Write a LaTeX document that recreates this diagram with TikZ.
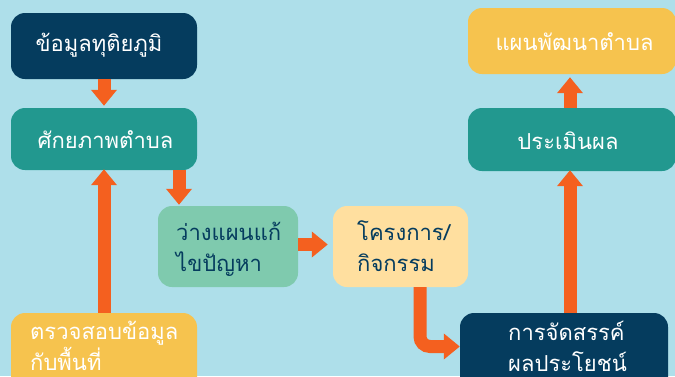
\documentclass[tikz,border=0pt]{standalone}
\usepackage{fontspec}
\newfontfamily\thaifont[Script=Thai]{Loma}
\usetikzlibrary{arrows.meta,calc}
\definecolor{bgblue}{HTML}{AEDFEA}
\definecolor{navy}{HTML}{053C5E}
\definecolor{teal1}{HTML}{22988F}
\definecolor{mint}{HTML}{7FCAAE}
\definecolor{sun}{HTML}{F6C34E}
\definecolor{peach}{HTML}{FFDF9F}
\definecolor{orng}{HTML}{F4601F}
\tikzset{
  box/.style={rectangle, rounded corners=14pt, inner sep=0pt},
  lbl/.style={inner sep=0pt, font=\thaifont\fontsize{22}{31}\selectfont},
  lblw/.style={lbl, text=white},
  lbln/.style={lbl, text=navy},
  arr/.style={draw=orng, line width=13pt, -{Triangle[width=25pt,length=16pt]}},
}
\begin{document}
\begin{tikzpicture}[x=1pt,y=-1pt]
\useasboundingbox (0,0) rectangle (675,376);
\fill[bgblue] (0,0) rectangle (675,376);
% boxes
\node[box, fill=navy, minimum width=186pt, minimum height=66pt] (b1) at (104,46) {};
\node[box, fill=teal1, minimum width=186pt, minimum height=62pt] (b2) at (104,139) {};
\node[box, fill=mint, minimum width=140pt, minimum height=81pt] (b3) at (228,246.5) {};
\node[box, fill=sun, minimum width=186pt, minimum height=82pt] (b4) at (104,354) {};
\node[box, fill=peach, minimum width=135pt, minimum height=81pt] (b5) at (400.5,246.5) {};
\node[box, fill=navy, minimum width=208pt, minimum height=82pt] (b6) at (564,354) {};
\node[box, fill=teal1, minimum width=208pt, minimum height=63pt] (b7) at (572,139.5) {};
\node[box, fill=sun, minimum width=208pt, minimum height=66pt] (b8) at (572,41) {};
% labels
\node[lblw] (t1) at (99,45) {ข้อมูลทุติยภูมิ};
\node[lblw] (t2) at (105.5,140) {ศักยภาพตำบล};
\node[lbln, anchor=west, align=left] (t3) at (176,249) {ว่างแผนแก้\\ไขปัญหา};
\node[lblw, anchor=west, align=left] (t4) at (30,346) {ตรวจสอบข้อมูล\\กับพื้นที่};
\node[lbln, anchor=west, align=left] (t5) at (357,246) {โครงการ/\\กิจกรรม};
\node[lblw, anchor=west, align=left] (t6) at (508,346) {การจัดสรรค์\\ผลประโยชน์};
\node[lblw] (t7) at (568,141) {ประเมินผล};
\node[lblw] (t8) at (574.5,42) {แผนพัฒนาตำบล};
% connector guide coordinates
\coordinate (c3) at (179,0);
\coordinate (c4) at (0,244.5);
\coordinate (c5) at (420,346.5);
\coordinate (c6) at (570,0);
% arrows
\draw[arr, shorten >=2pt] (b1) -- (b2);
\draw[arr, shorten >=-1pt] (b4) -- (b2);
\draw[arr, shorten >=1pt] (b2.south -| c3) -- (b3.north -| c3);
\draw[arr, shorten >=5pt] (b3.east |- c4) -- (b5.west |- c4);
\draw[arr, rounded corners=10pt] (b5.south -| c5) |- (b6.west |- c5);
\draw[arr, shorten >=-1pt] (b6.north -| c6) -- (b7.south -| c6);
\draw[arr, shorten >=3pt] (b7.north -| c6) -- (b8.south -| c6);
\end{tikzpicture}
\end{document}
